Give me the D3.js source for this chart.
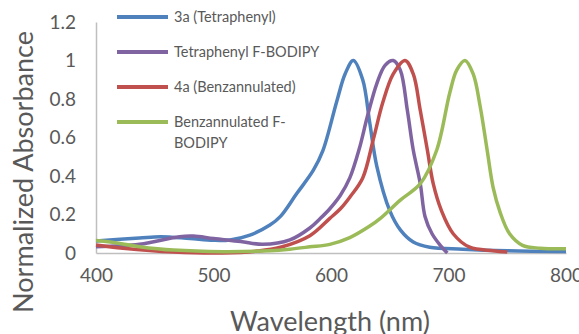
<!DOCTYPE html>
<html>
<head>
<meta charset="utf-8">
<script src="https://cdn.jsdelivr.net/npm/d3@7"></script>
<style>
  body { margin: 0; background: #fff; }
  text { font-family: Lato, "Open Sans", sans-serif; fill: #595959; }
</style>
</head>
<body>
<div id="chart"></div>
<script>
// values (wavelength nm, normalized absorbance)
const names = ['3a (Tetraphenyl)', 'Tetraphenyl F-BODIPY', '4a (Benzannulated)', 'Benzannulated F-BODIPY'];
const colors = ['#4F81BD', '#8064A2', '#C0504D', '#9BBB59'];

const blueX = [400, 437, 455, 480, 500, 514, 531, 548, 557, 571, 585, 593, 605, 612, 619, 627, 633, 639, 650, 659, 670, 684, 712, 750, 800];
const blueY = [0.062, 0.078, 0.085, 0.075, 0.066, 0.068, 0.093, 0.145, 0.19, 0.31, 0.43, 0.53, 0.79, 0.93, 1.0, 0.9, 0.675, 0.45, 0.22, 0.12, 0.057, 0.03, 0.02, 0.012, 0.008];

const purpleX = [400, 437, 471, 483, 500, 523, 542, 565, 582, 591, 599, 608, 616, 624, 631, 639, 646, 653, 659, 665, 670, 676, 680, 686, 693, 699];
const purpleY = [0.033, 0.045, 0.085, 0.088, 0.075, 0.06, 0.045, 0.068, 0.13, 0.18, 0.23, 0.3, 0.39, 0.54, 0.71, 0.88, 0.975, 1.0, 0.95, 0.74, 0.535, 0.36, 0.19, 0.1, 0.04, 0.0];

const redX = [400, 423, 466, 508, 537, 557, 582, 599, 608, 616, 627, 636, 644, 653, 663, 670, 676, 682, 687, 694, 704, 718, 738, 750];
const redY = [0.042, 0.025, 0.005, 0.0, 0.01, 0.03, 0.09, 0.18, 0.23, 0.29, 0.39, 0.59, 0.78, 0.93, 1.0, 0.93, 0.74, 0.535, 0.36, 0.22, 0.1, 0.03, 0.012, 0.005];

const greenX = [400, 412, 437, 466, 508, 548, 565, 582, 599, 616, 633, 642, 659, 676, 690, 701, 707, 714, 721, 727, 733, 738, 744, 752, 763, 778, 800];
const greenY = [0.065, 0.057, 0.033, 0.015, 0.007, 0.012, 0.02, 0.032, 0.045, 0.08, 0.14, 0.18, 0.275, 0.36, 0.535, 0.83, 0.95, 1.0, 0.93, 0.76, 0.53, 0.34, 0.21, 0.1, 0.04, 0.025, 0.022];

const xTicks = [400, 500, 600, 700, 800];
const yTicks = [0, 0.2, 0.4, 0.6, 0.8, 1, 1.2];

const seriesX = [blueX, purpleX, redX, greenX];
const seriesY = [blueY, purpleY, redY, greenY];

const W = 579, H = 334;
const plotL = 96, plotR = 566, plotT = 22, plotB = 253;

const svg = d3.select('#chart').append('svg').attr('width', W).attr('height', H);

const x = d3.scaleLinear().domain([400, 800]).range([plotL, plotR]);
const y = d3.scaleLinear().domain([0, 1.2]).range([plotB, plotT]);

// axes: plain grey lines, no tick marks
svg.append('g').attr('transform', `translate(0, ${plotB})`)
    .call(d3.axisBottom(x).tickValues(xTicks).tickSize(0).tickPadding(16).tickFormat(d3.format('d')))
    .call(g => g.select('.domain').attr('stroke', '#bfbfbf').attr('stroke-width', 1.5))
    .call(g => g.selectAll('text').style('font-size', '19px').attr('fill', '#595959'));

svg.append('g').attr('transform', `translate(${plotL}, 0)`)
    .call(d3.axisLeft(y).tickValues(yTicks).tickSize(0).tickPadding(20).tickFormat(d => d))
    .call(g => g.select('.domain').attr('stroke', '#bfbfbf').attr('stroke-width', 1.5))
    .call(g => g.selectAll('text').style('font-size', '19px').attr('fill', '#595959'));

const line = d3.line().curve(d3.curveCatmullRom.alpha(0.5))
    .x(d => x(d[0])).y(d => y(d[1]));

// draw in legend order
seriesX.forEach((xs, i) => {
    const pts = xs.map((v, j) => [v, seriesY[i][j]]);
    svg.append('path').datum(pts).attr('d', line)
        .attr('fill', 'none').attr('stroke', colors[i]).attr('stroke-width', 3.5)
        .attr('stroke-linejoin', 'round').attr('stroke-linecap', 'butt');
});

// axis titles
svg.append('text').attr('x', 330).attr('y', 331).attr('text-anchor', 'middle')
    .style('font-size', '27px').text('Wavelength (nm)');
svg.append('text').attr('transform', 'translate(33, 172) rotate(-90)').attr('text-anchor', 'middle')
    .style('font-size', '27px').text('Normalized Absorbance');

// legend
const legendLines = [['3a (Tetraphenyl)'], ['Tetraphenyl F-BODIPY'], ['4a (Benzannulated)'], ['Benzannulated F-', 'BODIPY']];
const lg = svg.append('g');
legendLines.forEach((lines, i) => {
    const ly = 17 + i * 35;
    lg.append('line').attr('x1', 117).attr('x2', 168).attr('y1', ly).attr('y2', ly)
        .attr('stroke', colors[i]).attr('stroke-width', 4);
    lines.forEach((t, k) => {
        lg.append('text').attr('x', 174).attr('y', ly + 5 + k * 21)
            .style('font-size', '14.5px').text(t);
    });
});
</script>
</body>
</html>
